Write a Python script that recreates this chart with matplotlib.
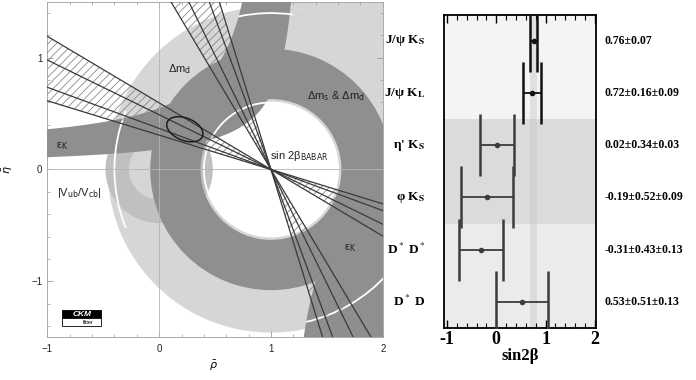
import numpy as np
import matplotlib
matplotlib.use("Agg")
import matplotlib.pyplot as plt
from matplotlib.patches import Wedge, Polygon, Ellipse, Rectangle, Arc
from matplotlib.ticker import MultipleLocator
import matplotlib.transforms as mtrans

plt.rcParams['hatch.linewidth'] = 0.6

# ---------------- right panel data (sin2beta measurements) ----------------
modes = ["J/ψ K$_\\mathbf{S}$", "J/ψ K$_\\mathbf{L}$", "η' K$_\\mathbf{S}$",
         "φ K$_\\mathbf{S}$", "D$^*$ D$^*$", "D$^*$ D"]
central = [0.76, 0.72, 0.02, -0.19, -0.31, 0.53]
stat_err = [0.07, 0.16, 0.34, 0.52, 0.43, 0.51]
syst_err = [0.00, 0.09, 0.03, 0.09, 0.13, 0.13]
value_labels = ["0.76±0.07", "0.72±0.16±0.09", "0.02±0.34±0.03",
                "-0.19±0.52±0.09", "-0.31±0.43±0.13", "0.53±0.51±0.13"]
row_bg = ['#f4f4f4', '#f4f4f4', '#dbdbdb', '#dbdbdb', '#ebebeb', '#ebebeb']
bar_colors = ['#111111', '#111111', '#3c3c3c', '#3c3c3c', '#3c3c3c', '#3c3c3c']
avg_band = [0.69, 0.82]
right_ticks = [-1, 0, 1, 2]

# ---------------- left panel data (rho-eta plane constraints) ----------------
apex = (1.0, 0.0)
vub_radii = [0.27, 0.48]          # |Vub/Vcb| ring around (0,0)
dmd_radii = [0.60, 1.46]          # Delta m_d ring around (1,0)
dms_radii = [0.63, 1.08]          # Delta m_s & Delta m_d ring around (1,0)
white_arc_radii = [0.60, 1.40, 1.40, 1.40]
white_arc_span = [(0, 360), (82, 102), (158, 202), (283, 318)]
epsk_outer = (1.0476, 0.4076, 0.161)   # eta = b/(a-rho)+c
epsk_inner = (1.325, 0.2157, 0.017)
beta_deg = [17.1, 20.2, 26.1, 30.8]     # sin2beta wedge boundaries
ellipse_center = (0.23, 0.36)
ellipse_size = (0.34, 0.20)
ellipse_angle = -22
left_xticks = [-1, 0, 1, 2]
left_yticks = [-1, 0, 1]

light, vubc, dark = '#d6d6d6', '#c0c0c0', '#8f8f8f'

fig = plt.figure(figsize=(6.96, 3.8), dpi=100)

# ============================ LEFT PANEL ============================
ax = fig.add_axes([0.068, 0.113, 0.482, 0.882])
ax.set_xlim(-1, 2)
ax.set_ylim(-1.5, 1.5)

# Delta m_d (light)
ax.add_patch(Wedge(apex, 3.0, 0, 90, width=3.0 - dmd_radii[1], fc=light, ec='none', zorder=1))
ax.add_patch(Wedge(apex, dmd_radii[1], 0, 360, width=dmd_radii[1] - dmd_radii[0],
                   fc=light, ec='none', zorder=1))
# |Vub/Vcb|
ax.add_patch(Wedge((0, 0), vub_radii[1], 0, 360, width=vub_radii[1] - vub_radii[0],
                   fc=vubc, ec='none', zorder=2))

# epsilon_K band
def hyper(p, rho):
    a, b, c = p
    return b / (a - rho) + c

def rho_at(p, eta):
    a, b, c = p
    return a - b / (eta - c)

r1 = np.linspace(-1.2, rho_at(epsk_outer, 1.7), 300)
r2 = np.linspace(-1.2, rho_at(epsk_inner, 1.7), 300)
up = np.vstack([np.column_stack([r1, hyper(epsk_outer, r1)]),
                np.column_stack([r2, hyper(epsk_inner, r2)])[::-1]])
ax.add_patch(Polygon(up, closed=True, fc=dark, ec='none', zorder=3))
r3 = np.linspace(rho_at(epsk_outer, -1.7), 2.2, 300)
lo = np.vstack([np.column_stack([r3, hyper(epsk_outer, r3)]), [[2.2, -1.7]]])
ax.add_patch(Polygon(lo, closed=True, fc=dark, ec='none', zorder=3))

# Delta m_s & Delta m_d (dark)
ax.add_patch(Wedge(apex, dms_radii[1], 0, 360, width=dms_radii[1] - dms_radii[0],
                   fc=dark, ec='none', zorder=4))

# white arcs
for r, (t1, t2) in zip(white_arc_radii, white_arc_span):
    ax.add_patch(Arc(apex, 2 * r, 2 * r, theta1=t1, theta2=t2, color='white', lw=1.3, zorder=5))

# axis lines
ax.axhline(0, color='#b5b5b5', lw=0.6, zorder=5.5)
ax.axvline(0, color='#b5b5b5', lw=0.6, zorder=5.5)

# sin2beta wedges
L = 6.0
def d(theta):
    t = np.deg2rad(theta)
    return np.array([np.cos(t), np.sin(t)])

A = np.array(apex)
for angles in ([180 - b for b in beta_deg], [90 + b for b in beta_deg]):
    for s in (1, -1):
        pts = [A, A + s * L * d(min(angles)), A + s * L * d(max(angles))]
        ax.add_patch(Polygon(pts, closed=True, fill=False, hatch='////',
                             edgecolor='#8a8a8a', lw=0, zorder=6))
    for ang in angles:
        p0, p1 = A - L * d(ang), A + L * d(ang)
        ax.plot([p0[0], p1[0]], [p0[1], p1[1]], color='#3a3a3a', lw=0.9, zorder=7)

ax.add_patch(Ellipse(ellipse_center, ellipse_size[0], ellipse_size[1], angle=ellipse_angle,
                     fill=False, ec='#1e1e1e', lw=1.1, zorder=8))

# labels
tk = dict(fontsize=8, color='#222222', family='Liberation Sans', zorder=9,
          math_fontfamily='dejavusans')
ax.text(0.18, 0.90, "Δm$_\\mathrm{d}$", ha='center', va='center', **tk)
ax.text(1.585, 0.66, "Δm$_\\mathrm{s}$ & Δm$_\\mathrm{d}$", ha='center', va='center', **tk)
ax.text(-0.865, 0.21, "ε$_\\mathrm{K}$", ha='center', va='center', **tk)
ax.text(1.71, -0.70, "ε$_\\mathrm{K}$", ha='center', va='center', **tk)
ax.text(0.99, 0.12, "sin 2β$_\\mathrm{BABAR}$", ha='left', va='center', **tk)
ax.text(-0.71, -0.21, "|V$_\\mathrm{ub}$/V$_\\mathrm{cb}$|", ha='center', va='center', **tk)

# CKMfitter logo
ax.add_patch(Rectangle((-0.865, -1.332), 0.347, 0.074, fc='black', ec='black', lw=0.6, zorder=9))
ax.add_patch(Rectangle((-0.865, -1.40), 0.347, 0.068, fc='white', ec='black', lw=0.6, zorder=9))
ax.text(-0.69, -1.295, "CKM", color='white', fontsize=6, fontweight='bold', style='italic',
        ha='center', va='center', family='Liberation Sans', zorder=10)
ax.text(-0.63, -1.366, "fitter", color='black', fontsize=4, ha='center', va='center',
        family='Liberation Sans', zorder=10)

ax.set_xticks(left_xticks)
ax.set_yticks(left_yticks)
ax.xaxis.set_minor_locator(MultipleLocator(0.2))
ax.yaxis.set_minor_locator(MultipleLocator(0.2))
ax.tick_params(which='both', direction='in', top=True, right=True, colors='#999999',
               labelcolor='#222222', labelsize=7)
ax.tick_params(which='major', length=4, width=0.6)
ax.tick_params(which='minor', length=2, width=0.5)
for lab in ax.get_xticklabels() + ax.get_yticklabels():
    lab.set_family('Liberation Sans')
ax.tick_params(axis='x', pad=5)
for sp in ax.spines.values():
    sp.set_color('#aaaaaa')
    sp.set_linewidth(0.7)
fig.text(213 / 696, 1 - 366 / 380, r'$\bar{\rho}$', fontsize=8, ha='center', va='center')
fig.text(8 / 696, 1 - 170 / 380, r'$\bar{\eta}$', fontsize=8, ha='center', va='center', rotation=90)

# ============================ RIGHT PANEL ============================
bx = fig.add_axes([0.638, 0.137, 0.218, 0.824])
bx.set_xlim(-1.06, 2.02)
bx.set_ylim(len(modes) - 0.5, -0.5)
y = np.arange(len(modes))
for yi, c in zip(y, row_bg):
    bx.axhspan(yi - 0.5, yi + 0.5, color=c, lw=0, zorder=0)
bx.axvspan(avg_band[0], avg_band[1], color='#c8c8c8', alpha=0.45, lw=0, zorder=1)

tot = np.sqrt(np.array(stat_err) ** 2 + np.array(syst_err) ** 2)
for yi, c0, e, col in zip(y, central, tot, bar_colors):
    bx.errorbar(c0, yi, xerr=e, fmt='o', ms=3, color=col, ecolor=col, capsize=22,
                capthick=1.8, elinewidth=1.3, zorder=3)

sf = dict(family='Liberation Serif', fontweight='bold', math_fontfamily='stix')
tr = mtrans.blended_transform_factory(bx.transAxes, bx.transData)
for yi, m, v in zip(y, modes, value_labels):
    bx.text(-0.125, yi, m, transform=tr, ha='right', va='center', fontsize=9.5, **sf)
    bx.text(1.06, yi, v, transform=tr, ha='left', va='center', fontsize=8.5, **sf)

bx.set_yticks([])
bx.set_xticks(right_ticks)
bx.xaxis.set_minor_locator(MultipleLocator(0.2))
bx.tick_params(which='both', direction='in', top=True, bottom=True, labelsize=13)
bx.tick_params(which='major', length=6, width=1.0)
bx.tick_params(which='minor', length=3.5, width=0.8)
bx.set_xticklabels([str(t) for t in right_ticks], **sf)
bx.tick_params(axis='x', pad=2)
bx.set_xlabel("sin2β", fontsize=12, labelpad=0, **sf)
for sp in bx.spines.values():
    sp.set_linewidth(1.3)

fig.savefig("out.png", dpi=100)
